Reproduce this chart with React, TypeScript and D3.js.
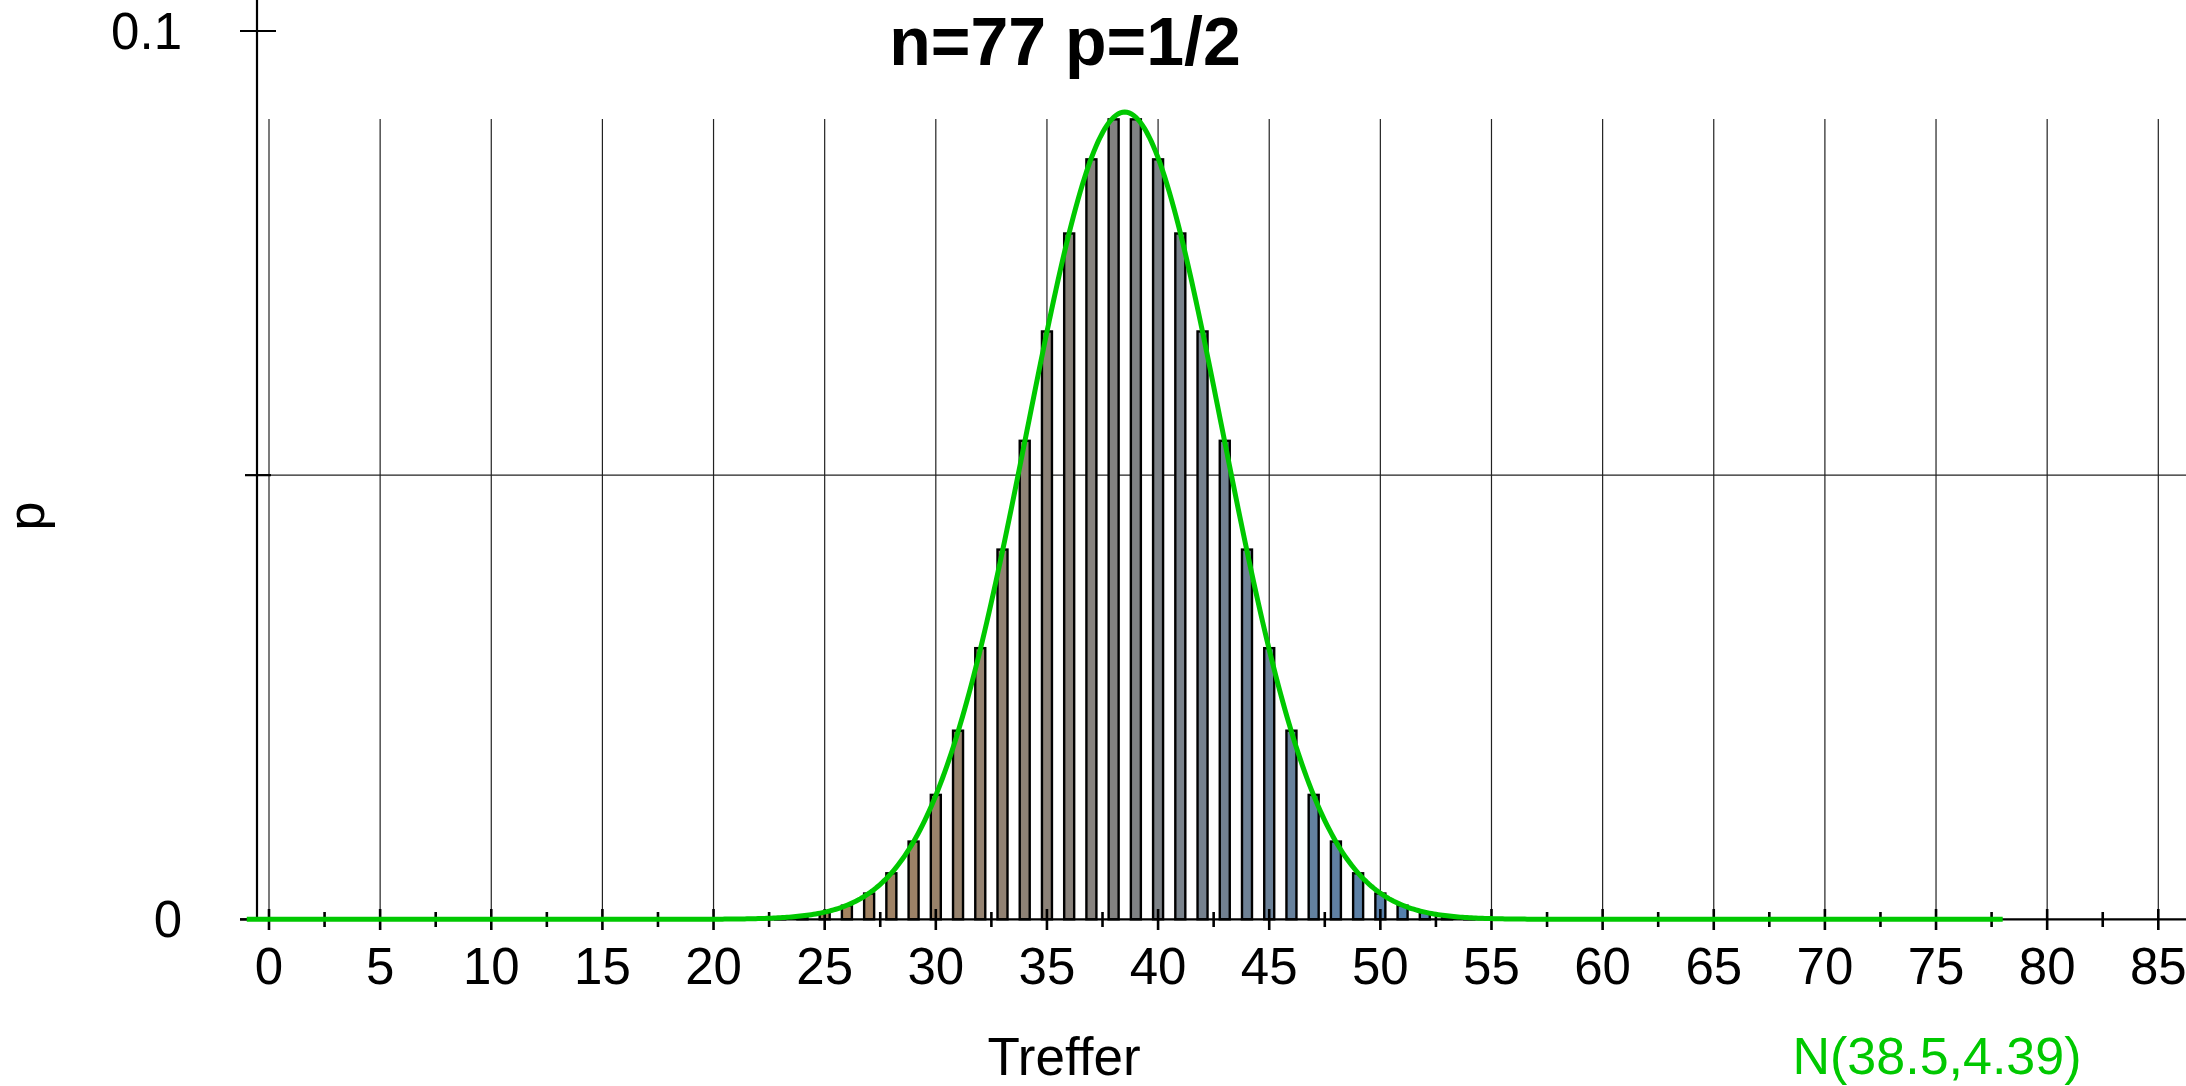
import React from "react";
import * as d3 from "d3";

// Binomial n=77, p=1/2: probability for k = 0..77
const ks: number[] = Array.from({ length: 78 }, (_, i) => i);
const probs: number[] = [
  0, 0, 0, 0, 0, 0, 0, 0, 0, 0,
  0, 0, 0, 0, 0, 0, 0, 0, 0, 0.00000336,
  0.000009744, 0.000026448, 0.000067323, 0.00016099, 0.00036222, 0.00076791, 0.0015358, 0.002901, 0.0051804, 0.0087531,
  0.014005, 0.021233, 0.030523, 0.041622, 0.053864, 0.066176, 0.077205, 0.085551, 0.090054, 0.090054,
  0.085551, 0.077205, 0.066176, 0.053864, 0.041622, 0.030523, 0.021233, 0.014005, 0.0087531, 0.0051804,
  0.002901, 0.0015358, 0.00076791, 0.00036222, 0.00016099, 0.000067323, 0.000026448, 0.000009744, 0.00000336, 0,
  0, 0, 0, 0, 0, 0, 0, 0, 0, 0,
  0, 0, 0, 0, 0, 0, 0, 0,
];
const xTickLabels: number[] = [0, 5, 10, 15, 20, 25, 30, 35, 40, 45, 50, 55, 60, 65, 70, 75, 80, 85];
const xMinorTicks: number[] = [2.5, 7.5, 12.5, 17.5, 22.5, 27.5, 32.5, 37.5, 42.5, 47.5, 52.5, 57.5, 62.5, 67.5, 72.5, 77.5, 82.5];
const yTickLabels: { v: number; label: string }[] = [
  { v: 0, label: "0" },
  { v: 0.1, label: "0.1" },
];
const MU = 38.5;
const SIGMA = 4.39;
const title = "n=77 p=1/2";
const xLabel = "Treffer";
const yLabel = "p";
const curveLabel = "N(38.5,4.39)";

const W = 2186;
const H = 1086;
const FONT = "'Liberation Sans', Arial, Helvetica, sans-serif";
const GREEN = "rgb(0,200,0)";

export default function App() {
  const x = d3.scaleLinear().domain([0, 85]).range([269, 2158.3]);
  const y = d3.scaleLinear().domain([0, 0.1]).range([919.3, 31]);
  const color = d3
    .scaleLinear<string>()
    .domain([26, 38.5, 51])
    .range(["#a4825f", "#828282", "#5580ad"])
    .clamp(true);

  const curvePts: [number, number][] = d3.range(-1, 78.001, 0.1).map((t) => [
    t,
    Math.exp(-((t - MU) * (t - MU)) / (2 * SIGMA * SIGMA)) / (SIGMA * Math.sqrt(2 * Math.PI)),
  ]);
  const line = d3
    .line<[number, number]>()
    .x((d) => x(d[0]))
    .y((d) => y(d[1]))
    .curve(d3.curveLinear);

  const barW = 10;
  const gridTop = 119;
  const y0 = y(0);

  return (
    <svg
      width={W}
      height={H}
      style={{ position: "absolute", left: 0, top: 0, background: "#fff" }}
      fontFamily={FONT}
    >
      <rect x={0} y={0} width={W} height={H} fill="#fff" />
      {/* vertical grid */}
      {xTickLabels.map((t) => (
        <line key={"g" + t} x1={x(t)} x2={x(t)} y1={gridTop} y2={y0} stroke="#222" strokeWidth={1.2} />
      ))}
      {/* horizontal grid at 0.05 */}
      <line x1={257} x2={W} y1={y(0.05)} y2={y(0.05)} stroke="#222" strokeWidth={1.2} />
      {/* bars */}
      {ks.map((k, i) =>
        probs[i] > 0 ? (
          <rect
            key={"b" + k}
            x={x(k) - barW / 2}
            y={y(probs[i])}
            width={barW}
            height={y0 - y(probs[i])}
            fill={color(k)}
            stroke="#000"
            strokeWidth={2.4}
          />
        ) : null
      )}
      {/* axes */}
      <line x1={257} x2={257} y1={0} y2={y0} stroke="#000" strokeWidth={2.2} />
      <line x1={240} x2={W} y1={y0} y2={y0} stroke="#000" strokeWidth={2.2} />
      <line x1={240} x2={276} y1={y(0.1)} y2={y(0.1)} stroke="#000" strokeWidth={2.2} />
      <line x1={245} x2={271} y1={y(0.05)} y2={y(0.05)} stroke="#000" strokeWidth={2.2} />
      <line x1={240} x2={276} y1={y0} y2={y0} stroke="#000" strokeWidth={2.2} />
      {xTickLabels.map((t) => (
        <line key={"mt" + t} x1={x(t)} x2={x(t)} y1={909} y2={930} stroke="#000" strokeWidth={2.6} />
      ))}
      {xMinorTicks.map((t) => (
        <line key={"nt" + t} x1={x(t)} x2={x(t)} y1={912} y2={927} stroke="#000" strokeWidth={2.6} />
      ))}
      {/* normal curve */}
      <path d={line(curvePts) || ""} fill="none" stroke={GREEN} strokeWidth={5} />
      {/* tick labels */}
      {xTickLabels.map((t) => (
        <text key={"xl" + t} x={x(t)} y={984} fontSize={51} textAnchor="middle" fill="#000">
          {t}
        </text>
      ))}
      {yTickLabels.map((d) => (
        <text key={"yl" + d.label} x={182} y={y(d.v) + 18} fontSize={51} textAnchor="end" fill="#000">
          {d.label}
        </text>
      ))}
      {/* titles */}
      <text x={1065} y={65} fontSize={68} fontWeight="bold" textAnchor="middle" fill="#000">
        {title}
      </text>
      <text x={1064} y={1075} fontSize={53} textAnchor="middle" fill="#000">
        {xLabel}
      </text>
      <text x={1937} y={1074} fontSize={52} textAnchor="middle" fill={GREEN}>
        {curveLabel}
      </text>
      <text transform="translate(44,516) rotate(-90)" fontSize={52} textAnchor="middle" fill="#000">
        {yLabel}
      </text>
    </svg>
  );
}
